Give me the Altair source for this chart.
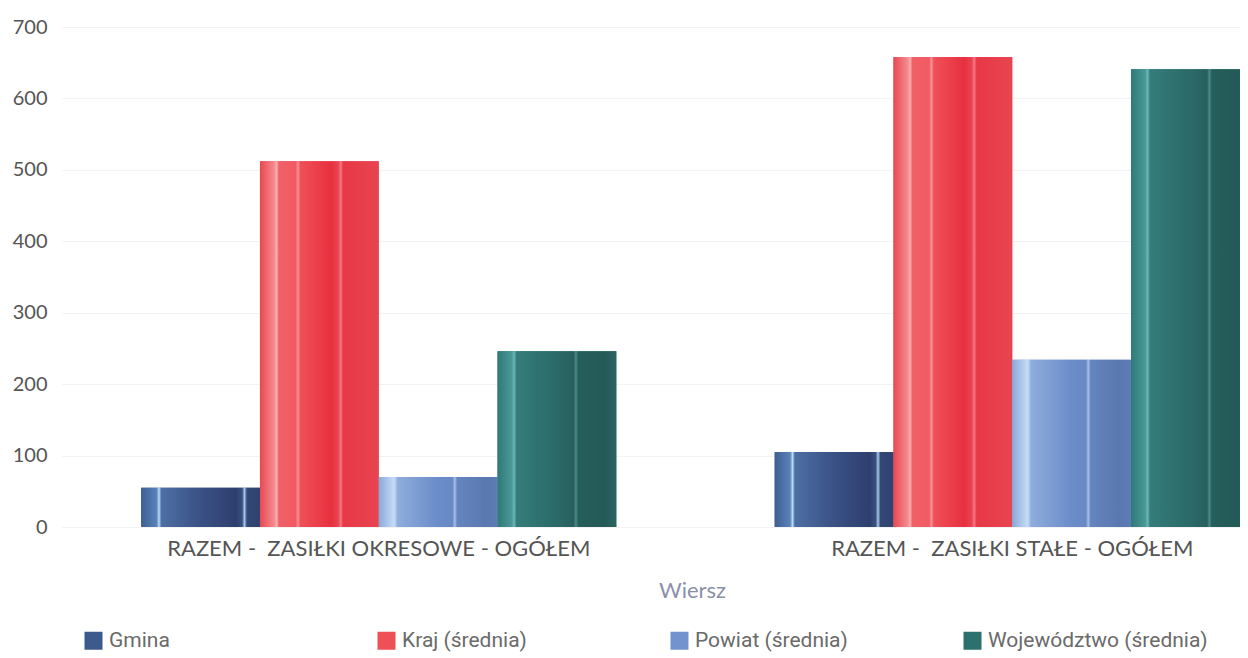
import altair as alt
import pandas as pd

categories = ["RAZEM -\u00a0 ZASIŁKI OKRESOWE - OGÓŁEM", "RAZEM -\u00a0 ZASIŁKI STAŁE - OGÓŁEM"]
series = ["Gmina", "Kraj (średnia)", "Powiat (średnia)", "Województwo (średnia)"]
values_okresowe = [55, 512, 70, 246]
values_stale = [105, 658, 234, 641]
y_ticks = [0, 100, 200, 300, 400, 500, 600, 700]
colors = ["#3d5a8c", "#ef5058", "#7393cf", "#2c716d"]

gradient_stops = {
    "Gmina": [(0, "#3e5f92"), (0.13, "#5a82b8"), (0.15, "#b8dcf5"), (0.17, "#4d6fa3"),
              (0.5, "#3a5185"), (0.8, "#2e3f6e"), (0.85, "#3a5080"), (0.87, "#a8c8e8"),
              (0.89, "#334877"), (1, "#2f416f")],
    "Kraj (średnia)": [(0, "#e84850"), (0.12, "#f48a90"), (0.14, "#f9b0b0"), (0.16, "#f06068"),
                       (0.3, "#f25a62"), (0.32, "#f89098"), (0.34, "#ef5058"), (0.6, "#e8303f"),
                       (0.66, "#ea4452"), (0.68, "#f37a86"), (0.70, "#e83848"), (1, "#e84450")],
    "Powiat (średnia)": [(0, "#8aa8d8"), (0.1, "#b8d0f0"), (0.13, "#c8dcf8"), (0.16, "#8eacdc"),
                         (0.5, "#6a8cc8"), (0.62, "#6889c4"), (0.64, "#a8c0e8"), (0.66, "#6585c0"),
                         (0.9, "#5a78b0"), (1, "#5e7cb5")],
    "Województwo (średnia)": [(0, "#2e7a78"), (0.12, "#4a9898"), (0.14, "#6ab8b8"), (0.16, "#347c7a"),
                              (0.5, "#2a6a68"), (0.64, "#285f5e"), (0.66, "#4a8a88"), (0.68, "#265e5c"),
                              (0.9, "#235a58"), (1, "#2a6460")],
}

rows = []
for s, v in zip(series, values_okresowe):
    rows.append({"category": categories[0], "series": s, "value": v})
for s, v in zip(series, values_stale):
    rows.append({"category": categories[1], "series": s, "value": v})
df = pd.DataFrame(rows)

FONT = "Lato"

x_enc = alt.X(
    "category:N", sort=categories,
    scale=alt.Scale(range=[0, 1267], paddingInner=0.25, paddingOuter=0.125),
    axis=alt.Axis(
        title="Wiersz", labelAngle=0, labelFontSize=22, labelColor="#555555", labelFont=FONT,
        labelLimit=0, labelPadding=11, domain=False, ticks=False,
        titleFont=FONT, titleFontSize=22, titleFontWeight="normal", titleColor="#8a90a8",
        titleX=630, titleY=63, titleAlign="center", titleBaseline="middle",
    ),
)
xoff_enc = alt.XOffset("series:N", sort=series,
                       scale=alt.Scale(domain=series, paddingInner=0, paddingOuter=0))
y_enc = alt.Y(
    "value:Q", scale=alt.Scale(domain=[0, 700], nice=False),
    axis=alt.Axis(
        values=y_ticks, title=None, domain=False, ticks=False, labelFontSize=20,
        labelColor="#555555", labelFont=FONT, labelPadding=15, gridColor="#f3f3f3",
    ),
)

base = alt.Chart(df).mark_bar().encode(
    x=x_enc, xOffset=xoff_enc, y=y_enc,
    color=alt.Color(
        "series:N", sort=series, scale=alt.Scale(domain=series, range=colors),
        legend=alt.Legend(
            title=None, orient="none", legendX=21, legendY=603, direction="horizontal",
            columns=4, columnPadding=47, gridAlign="all", symbolType="square",
            symbolSize=324, symbolStrokeWidth=0, labelFontSize=21, labelLimit=0,
            labelFont="Roboto", labelColor="#6a6a6a", labelOffset=5,
        ),
    ),
)

layers = [base]
for s in series:
    grad = alt.LinearGradient(
        gradient="linear",
        stops=[alt.GradientStop(offset=o, color=c) for o, c in gradient_stops[s]],
        x1=0, x2=1, y1=0, y2=0,
    )
    layers.append(
        alt.Chart(df).transform_filter(alt.datum.series == s)
        .mark_bar(fill=grad)
        .encode(x=x_enc, xOffset=xoff_enc, y=y_enc)
    )

chart = alt.layer(*layers).properties(
    width=1178, height=500, autosize="none",
    padding={"left": 54, "top": 19, "right": 0, "bottom": 127},
).configure_view(stroke=None)

chart.save("out.html", embed_options={"renderer": "svg", "actions": False})
